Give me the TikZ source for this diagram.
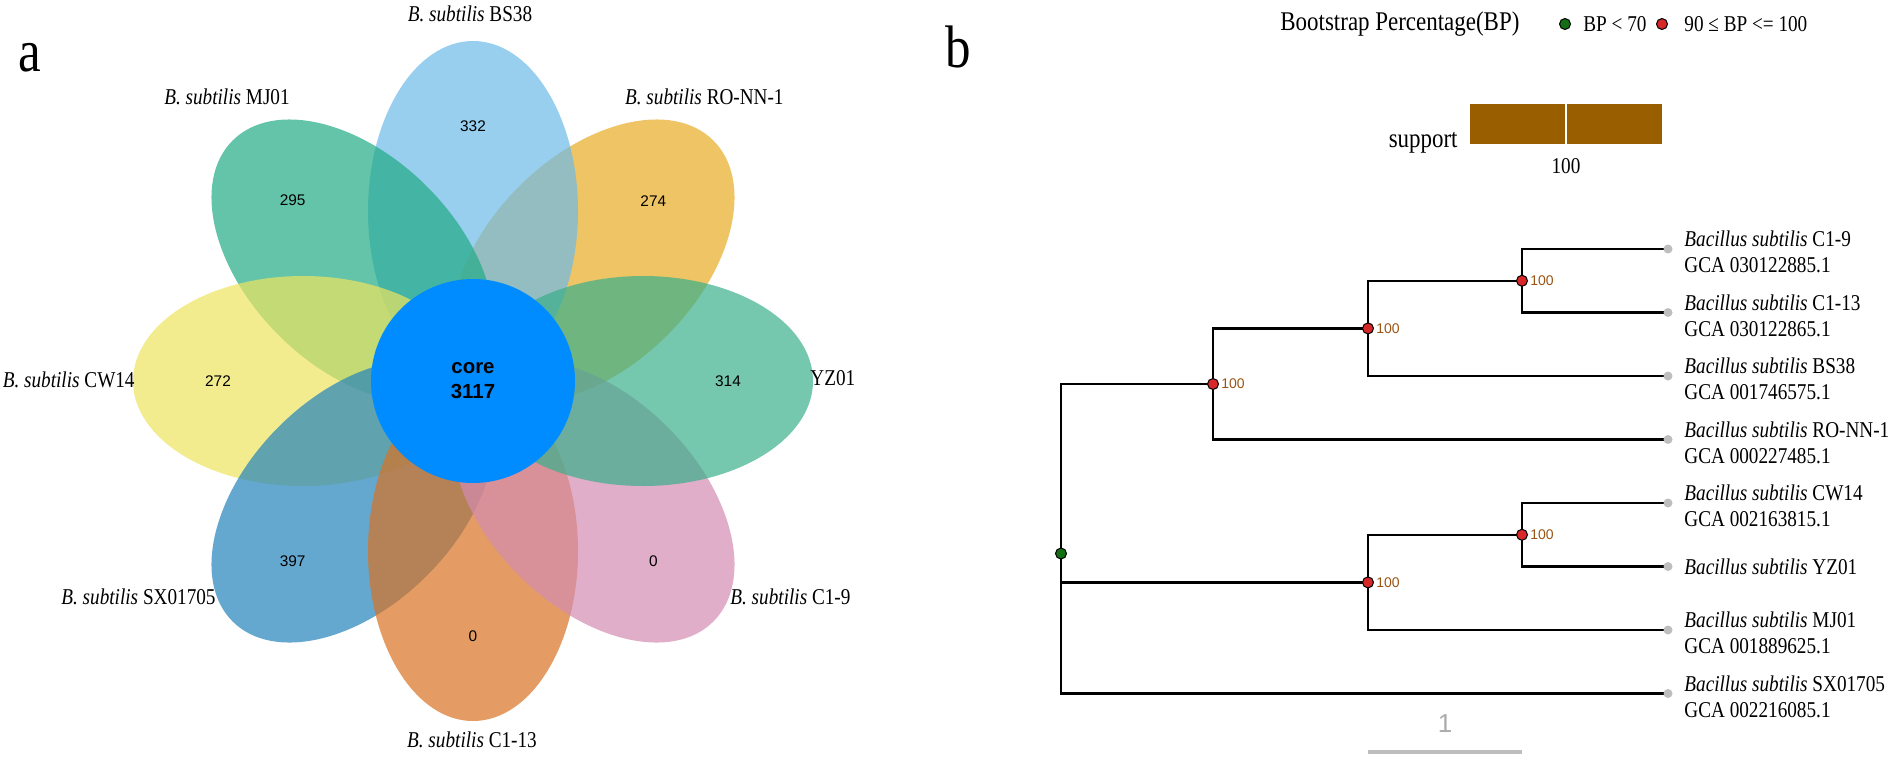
\documentclass[tikz,border=0pt]{standalone}
\usepackage{fontspec}
\setmainfont[FakeStretch=0.85]{Liberation Serif}
\newfontfamily\sansnum{Liberation Sans}
\definecolor{cbs}{RGB}{108,186,232}
\definecolor{cmj}{RGB}{34,171,134}
\definecolor{cro}{RGB}{231,171,36}
\definecolor{ccw}{RGB}{236,228,95}
\definecolor{cyz}{RGB}{58,175,139}
\definecolor{csx}{RGB}{34,131,188}
\definecolor{cct}{RGB}{216,114,34}
\definecolor{ccn}{RGB}{211,139,176}
\definecolor{ccore}{RGB}{0,140,255}
\definecolor{bpred}{RGB}{214,40,40}
\definecolor{bpgreen}{RGB}{20,110,20}
\definecolor{bplabel}{RGB}{153,84,20}
\definecolor{suppbar}{RGB}{153,94,0}
\definecolor{tipgray}{RGB}{190,190,190}
\begin{document}
\begin{tikzpicture}[%
            x=0.5pt, y=-0.5pt,
            mypetal/.style={fill opacity=0.7},
            mynum/.style={font=\sansnum\fontsize{7.7}{9}\selectfont},
            mylab/.style={font=\fontsize{11.3}{13}\selectfont, inner sep=0pt},
            mycore/.style={circle, fill=ccore, minimum size=102pt, inner sep=0pt,
                align=center, font=\sansnum\bfseries\fontsize{10.2}{12.5}\selectfont},
            mytip/.style={circle, fill=tipgray, inner sep=0pt, minimum size=4.5pt},
            mybp/.style={circle, draw=black, line width=0.5pt, inner sep=0pt,
                minimum size=5.5pt, label distance=2pt},
            mybplab/.style={font=\sansnum\fontsize{7}{8}\selectfont, text=bplabel, inner sep=1pt},
            mybranch/.style={line width=1.2pt, line cap=rect},
            myletter/.style={font=\fontsize{30}{30}\selectfont, anchor=base}
    ]
        \useasboundingbox (0,0) rectangle (1902,761);

        \node [myletter] (pa) at (30,71) {a};
        \node [myletter] (pb) at (958,67) {b};

        % flower
        \begin{scope}[shift={(473,381)}]
            \foreach \t/\c in {315/cro, 270/cbs, 225/cmj, 180/ccw, 135/csx, 90/cct, 45/ccn, 0/cyz}
                \fill [mypetal, fill=\c, rotate=-\t] (170,0) ellipse [x radius=170, y radius=105];
            \foreach \t/\n in {270/332, 315/274, 0/314, 45/0, 90/0, 135/397, 180/272, 225/295}
                \node [mynum] (v\t) at (\t:255) {\n};
            \node [mycore] (core) at (0,0) {core\\3117};
        \end{scope}

        \node [mylab] (lbs) at (470,14) {\textit{B. subtilis} BS38};
        \node [mylab] (lmj) at (227,97) {\textit{B. subtilis} MJ01};
        \node [mylab, anchor=east] (lro) at (784,97) {\textit{B. subtilis} RO-NN-1};
        \node [mylab, anchor=east] (lcw) at (135,380) {\textit{B. subtilis} CW14};
        \node [mylab, anchor=west] (lyz) at (810,378) {YZ01};
        \node [mylab, anchor=east] (lsx) at (216,597) {\textit{B. subtilis} SX01705};
        \node [mylab, anchor=west] (lcn) at (730,597) {\textit{B. subtilis} C1-9};
        \node [mylab] (lct) at (472,740) {\textit{B. subtilis} C1-13};

        % legend
        \node [mylab, anchor=west, font=\fontsize{13.5}{15}\selectfont] (bptitle) at (1280,24) {Bootstrap Percentage(BP)};
        \node [mybp, fill=bpgreen] (keylow) at (1565,24) {};
        \node [mylab, anchor=west] (keylowtxt) at (1583,24) {BP < 70};
        \node [mybp, fill=bpred] (keyhigh) at (1662,24) {};
        \node [mylab, anchor=west] (keyhightxt) at (1684,24) {90 ≤ BP <= 100};

        \fill [suppbar] (1470,104) rectangle (1662,144);
        \draw [white, line width=0.6pt] (1566,104) -- (1566,144);
        \node [mylab, anchor=east, font=\fontsize{13.5}{15}\selectfont] (supp) at (1458,143) {support};
        \node [mylab] (supp100) at (1566,166) {100};

        % tree
        \coordinate (c19) at (1668,249);
        \coordinate (c113) at (1668,312.5);
        \coordinate (bs) at (1668,376);
        \coordinate (ro) at (1668,439.5);
        \coordinate (cw) at (1668,503);
        \coordinate (yz) at (1668,566.5);
        \coordinate (mj) at (1668,630);
        \coordinate (sx) at (1668,693.5);
        \coordinate (n3) at (1522,280.75);
        \coordinate (n2) at (1368,328.4);
        \coordinate (n1) at (1213,384);
        \coordinate (n5) at (1522,534.75);
        \coordinate (n4) at (1368,582.4);
        \coordinate (root) at (1061,553.5);

        \foreach \p/\c in {root/n1, root/n4, root/sx, n1/n2, n1/ro, n2/n3, n2/bs,
                n3/c19, n3/c113, n4/n5, n4/mj, n5/cw, n5/yz}
            \draw [mybranch] (\p) |- (\c);

        \foreach \c in {c19, c113, bs, ro, cw, yz, mj, sx}
            \node [mytip] (t\c) at (\c) {};
        \foreach \c in {n1, n2, n3, n4, n5}
            \node [mybp, fill=bpred, label={[mybplab]right:100}] (d\c) at (\c) {};
        \node [mybp, fill=bpgreen] (droot) at (root) {};

        \node [mylab, anchor=west, align=left] (lbc19) at (1684,252) {\textit{Bacillus subtilis} C1-9\\GCA 030122885.1};
        \node [mylab, anchor=west, align=left] (lbc113) at (1684,315.5) {\textit{Bacillus subtilis} C1-13\\GCA 030122865.1};
        \node [mylab, anchor=west, align=left] (lbbs) at (1684,379) {\textit{Bacillus subtilis} BS38\\GCA 001746575.1};
        \node [mylab, anchor=west, align=left] (lbro) at (1684,442.5) {\textit{Bacillus subtilis} RO-NN-1\\GCA 000227485.1};
        \node [mylab, anchor=west, align=left] (lbcw) at (1684,506) {\textit{Bacillus subtilis} CW14\\GCA 002163815.1};
        \node [mylab, anchor=west] (lbyz) at (1684,566.5) {\textit{Bacillus subtilis} YZ01};
        \node [mylab, anchor=west, align=left] (lbmj) at (1684,633) {\textit{Bacillus subtilis} MJ01\\GCA 001889625.1};
        \node [mylab, anchor=west, align=left] (lbsx) at (1684,696.5) {\textit{Bacillus subtilis} SX01705\\GCA 002216085.1};

        \draw [tipgray, line width=2pt] (1368,752) -- (1522,752);
        \node [font=\sansnum\fontsize{13}{15}\selectfont, text=tipgray!90!black] (scalelab) at (1445,724) {1};
    \end{tikzpicture}
\end{document}
